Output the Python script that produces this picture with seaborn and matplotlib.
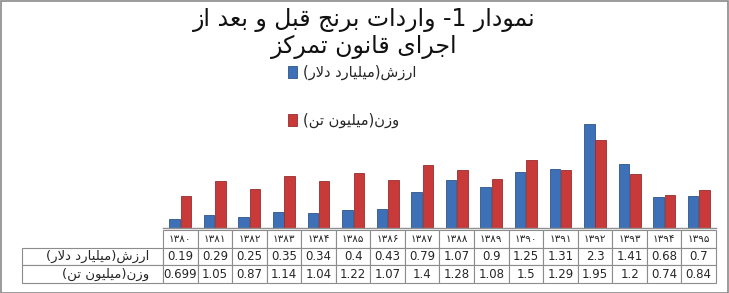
import re
import matplotlib
matplotlib.use("Agg")
import matplotlib.pyplot as plt
import pandas as pd
import seaborn as sns
from matplotlib.patches import Rectangle

# ---------------- data ----------------
years = ['۱۳۸۰', '۱۳۸۱', '۱۳۸۲', '۱۳۸۳', '۱۳۸۴', '۱۳۸۵', '۱۳۸۶', '۱۳۸۷',
         '۱۳۸۸', '۱۳۸۹', '۱۳۹۰', '۱۳۹۱', '۱۳۹۲', '۱۳۹۳', '۱۳۹۴', '۱۳۹۵']
value_bn_usd = [0.19, 0.29, 0.25, 0.35, 0.34, 0.4, 0.43, 0.79,
                1.07, 0.9, 1.25, 1.31, 2.3, 1.41, 0.68, 0.7]
weight_mt = [0.699, 1.05, 0.87, 1.14, 1.04, 1.22, 1.07, 1.4,
             1.28, 1.08, 1.5, 1.29, 1.95, 1.2, 0.74, 0.84]
series_names = ['ارزش(میلیارد دلار)', 'وزن(میلیون تن)']
title_lines = ['نمودار 1- واردات برنج قبل و بعد از', 'اجرای قانون تمرکز']

# ------------- minimal Arabic-script shaping + RTL ordering -------------
FORMS = {  # isolated, final, initial, medial
    'ا': ('\uFE8D', '\uFE8E', None, None),
    'ب': ('\uFE8F', '\uFE90', '\uFE91', '\uFE92'),
    'ت': ('\uFE95', '\uFE96', '\uFE97', '\uFE98'),
    'ج': ('\uFE9D', '\uFE9E', '\uFE9F', '\uFEA0'),
    'د': ('\uFEA9', '\uFEAA', None, None),
    'ر': ('\uFEAD', '\uFEAE', None, None),
    'ز': ('\uFEAF', '\uFEB0', None, None),
    'ش': ('\uFEB5', '\uFEB6', '\uFEB7', '\uFEB8'),
    'ع': ('\uFEC9', '\uFECA', '\uFECB', '\uFECC'),
    'ق': ('\uFED5', '\uFED6', '\uFED7', '\uFED8'),
    'ک': ('\uFB8E', '\uFB8F', '\uFB90', '\uFB91'),
    'ل': ('\uFEDD', '\uFEDE', '\uFEDF', '\uFEE0'),
    'م': ('\uFEE1', '\uFEE2', '\uFEE3', '\uFEE4'),
    'ن': ('\uFEE5', '\uFEE6', '\uFEE7', '\uFEE8'),
    'و': ('\uFEED', '\uFEEE', None, None),
    'ی': ('\uFBFC', '\uFBFD', '\uFBFE', '\uFBFF'),
}


def shape(s):
    out, i, n, prev_joins = [], 0, len(s), False
    while i < n:
        c = s[i]
        if c not in FORMS:
            out.append(c)
            prev_joins = False
            i += 1
            continue
        if c == 'ل' and i + 1 < n and s[i + 1] == 'ا':
            out.append('\uFEFC' if prev_joins else '\uFEFB')
            prev_joins = False
            i += 2
            continue
        nxt = s[i + 1] if i + 1 < n else ''
        joins_next = FORMS[c][2] is not None and nxt in FORMS
        iso, fin, ini, med = FORMS[c]
        if prev_joins and joins_next:
            g = med
        elif prev_joins:
            g = fin
        elif joins_next:
            g = ini
        else:
            g = iso
        out.append(g)
        prev_joins = joins_next
        i += 1
    return ''.join(out)


def rtl(s):
    tokens = re.findall(r'[0-9.\u06F0-\u06F9]+|[^0-9.\u06F0-\u06F9]', shape(s))
    mirror = {'(': ')', ')': '('}
    return ''.join(mirror.get(t, t) for t in reversed(tokens))


# ---------------- figure ----------------
sns.set_theme(style="white")
plt.rcParams['font.family'] = ['DejaVu Sans']

BLUE = '#3D70B6'
RED = '#C83A3A'

df = pd.DataFrame({
    'year': years * 2,
    'amount': value_bn_usd + weight_mt,
    'series': [series_names[0]] * len(years) + [series_names[1]] * len(years),
})

fig = plt.figure(figsize=(7.29, 2.93), dpi=100)
ax = fig.add_axes([163 / 729, 65 / 293, 553 / 729, 113 / 293])

sns.barplot(data=df, x='year', y='amount', hue='series', order=years,
            hue_order=series_names, palette=[BLUE, RED], width=0.66, gap=0.08,
            saturation=1, ax=ax, legend=True)

for p in ax.patches:
    fc = p.get_facecolor()
    p.set_edgecolor(tuple(0.75 * x for x in fc[:3]))
    p.set_linewidth(0.6)

ax.set_xlim(-0.5, len(years) - 0.5)
ax.set_ylim(0, 2.5)
ax.set_xticks([])
ax.set_yticks([])
ax.set_xlabel('')
ax.set_ylabel('')
for s in ['top', 'left', 'right']:
    ax.spines[s].set_visible(False)
ax.spines['bottom'].set_color('#909090')
ax.spines['bottom'].set_linewidth(1.0)

handles, labels = ax.get_legend_handles_labels()
ax.get_legend().remove()
fig.legend(handles, [rtl(l) for l in labels], loc='upper left',
           bbox_to_anchor=(288 / 729, 1 - 65 / 293), frameon=False,
           fontsize=10.5, handlelength=0.6, handleheight=0.85,
           handletextpad=0.4, labelspacing=2.25, borderpad=0,
           borderaxespad=0)

# data table
cell_text = [[str(v) for v in value_bn_usd], [str(v) for v in weight_mt]]
tbl = ax.table(cellText=cell_text, colLabels=years,
               colWidths=[1 / len(years)] * len(years), cellLoc='center',
               colLoc='center', bbox=[0, -0.487, 1, 0.469])
tbl.auto_set_font_size(False)
tbl.set_fontsize(8)
h0 = tbl[1, 0].get_height()
for r, name in enumerate(series_names, start=1):
    tbl.add_cell(r, -1, width=141 / 553, height=h0, text=rtl(name), loc='right')
for (r, c), cell in tbl.get_celld().items():
    cell.set_edgecolor('#8C8C8C')
    cell.set_linewidth(0.8)
    cell.set_facecolor('white')
    cell.get_text().set_fontsize(8.5 if r > 0 else 7.5)
    if c == -1:
        cell.get_text().set_fontsize(9.5)

# title
fig.text(0.5, 1 - 20 / 293, rtl(title_lines[0]), ha='center', va='center',
         fontsize=17, color='#111111')
fig.text(0.5, 1 - 47 / 293, rtl(title_lines[1]), ha='center', va='center',
         fontsize=17, color='#111111')

# outer frame
fig.patches.append(Rectangle((0.5 / 729, 0.5 / 293), 1 - 1.5 / 729, 1 - 1.5 / 293,
                             transform=fig.transFigure, fill=False,
                             edgecolor='#8A8A8A', linewidth=1.2))

fig.savefig('out.png', dpi=100)
